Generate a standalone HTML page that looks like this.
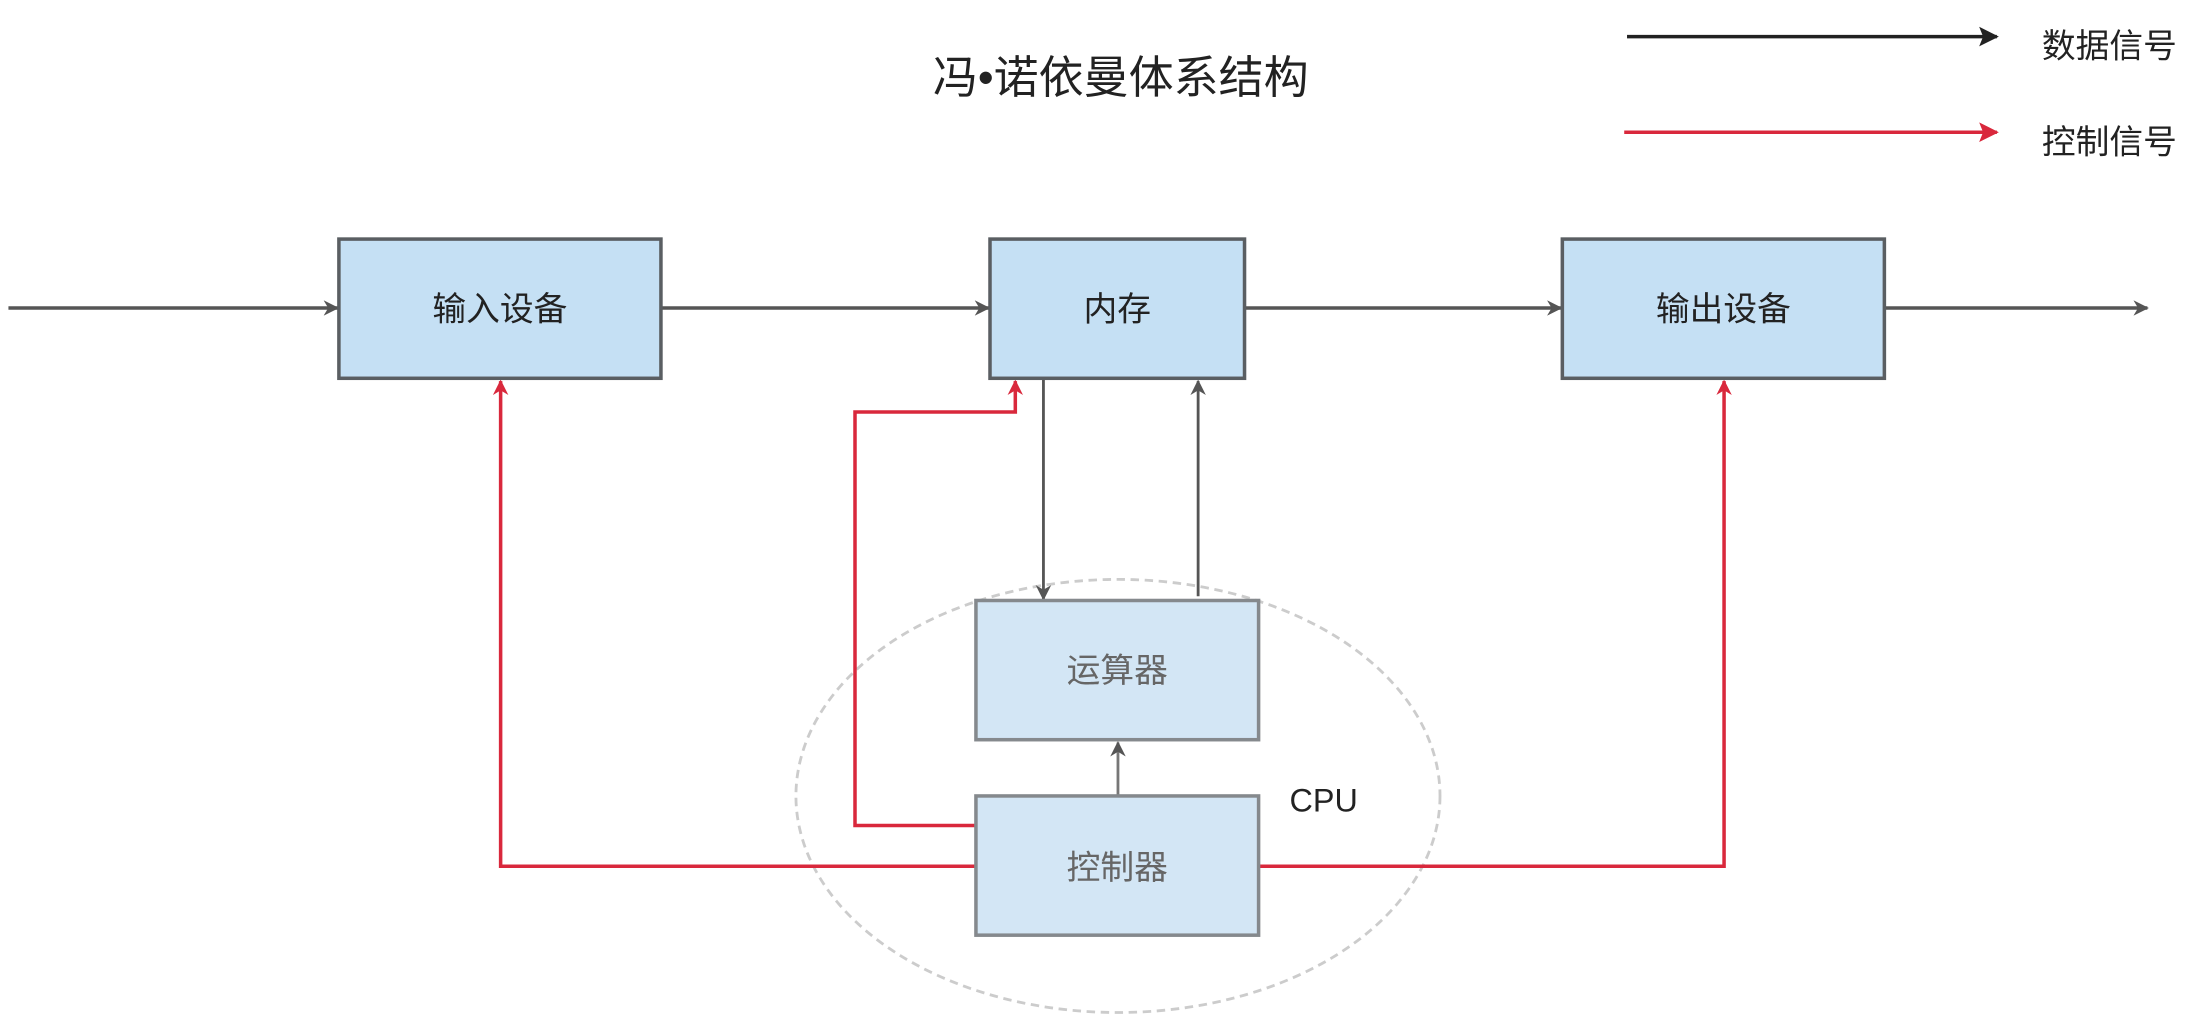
<!DOCTYPE html>
<html><head><meta charset="utf-8"><style>
html,body{margin:0;padding:0;background:#fff;width:2205px;height:1019px;overflow:hidden}
svg{display:block}
text{font-family:"Liberation Sans","Noto Sans CJK SC",sans-serif}
</style></head><body>
<svg width="2205" height="1019" viewBox="0 0 1568 724.6" xmlns="http://www.w3.org/2000/svg">
<defs>
<marker id="agl" viewBox="0 0 10 10" refX="9" refY="5" markerWidth="16" markerHeight="11" markerUnits="userSpaceOnUse" orient="auto"><path d="M0,0L10,5L0,10L3,5z" fill="#555"/></marker>
<marker id="ab" viewBox="0 0 10 10" refX="9" refY="5" markerWidth="16" markerHeight="14" markerUnits="userSpaceOnUse" orient="auto"><path d="M0,0L10,5L0,10L2,5z" fill="#222"/></marker>
<marker id="ar" viewBox="0 0 10 10" refX="9" refY="5" markerWidth="16" markerHeight="14" markerUnits="userSpaceOnUse" orient="auto"><path d="M0,0L10,5L0,10L2,5z" fill="#d9283c"/></marker>
<marker id="arl" viewBox="0 0 10 10" refX="9" refY="5" markerWidth="16" markerHeight="11" markerUnits="userSpaceOnUse" orient="auto"><path d="M0,0L10,5L0,10L3,5z" fill="#d9283c"/></marker>
</defs>
<text x="797" y="66" font-size="32" text-anchor="middle" fill="#222">冯•诺依曼体系结构</text>
<line x1="1157" y1="26" x2="1420" y2="26" stroke="#222" stroke-width="2.5" marker-end="url(#ab)"/>
<text x="1452" y="41" font-size="24" fill="#222">数据信号</text>
<line x1="1155" y1="94" x2="1420" y2="94" stroke="#d9283c" stroke-width="2.5" marker-end="url(#ar)"/>
<text x="1452" y="109" font-size="24" fill="#222">控制信号</text>

<ellipse cx="795" cy="566" rx="229" ry="154" fill="none" stroke="#ccc" stroke-width="2" stroke-dasharray="6,4"/>

<g stroke="#555" stroke-width="2.5" fill="none">
<line x1="6" y1="219" x2="240" y2="219" marker-end="url(#agl)"/>
<line x1="471" y1="219" x2="703" y2="219" marker-end="url(#agl)"/>
<line x1="886" y1="219" x2="1110" y2="219" marker-end="url(#agl)"/>
<line x1="1341" y1="219" x2="1527" y2="219" marker-end="url(#agl)"/>
<line x1="742" y1="270" x2="742" y2="426" stroke-width="2" marker-end="url(#agl)"/>
<line x1="852" y1="424" x2="852" y2="271" stroke-width="2" marker-end="url(#agl)"/>
<line x1="795" y1="566" x2="795" y2="528" stroke="#777" stroke-width="2" marker-end="url(#agl)"/>
</g>
<g stroke="#d9283c" stroke-width="2.5" fill="none">
<polyline points="694,587 608,587 608,293 722,293 722,271" marker-end="url(#arl)"/>
<polyline points="694,616 356,616 356,271" marker-end="url(#arl)"/>
<polyline points="895,616 1226,616 1226,271" marker-end="url(#arl)"/>
</g>

<g stroke="#5a5e62" stroke-width="2.5" fill="#c5e0f4">
<rect x="241" y="170" width="229" height="99"/>
<rect x="704" y="170" width="181" height="99"/>
<rect x="1111" y="170" width="229" height="99"/>
</g>
<g stroke="#85898d" stroke-width="2.5" fill="#d3e6f5">
<rect x="694" y="427" width="201" height="99"/>
<rect x="694" y="566" width="201" height="99"/>
</g>
<g font-size="24" text-anchor="middle">
<text x="355.5" y="228" fill="#222">输入设备</text>
<text x="794.5" y="228" fill="#222">内存</text>
<text x="1225.5" y="228" fill="#222">输出设备</text>
<text x="794.5" y="485" fill="#666">运算器</text>
<text x="794.5" y="625" fill="#666">控制器</text>
</g>
<text x="917" y="577" font-size="23" fill="#222">CPU</text>
</svg>
</body></html>
